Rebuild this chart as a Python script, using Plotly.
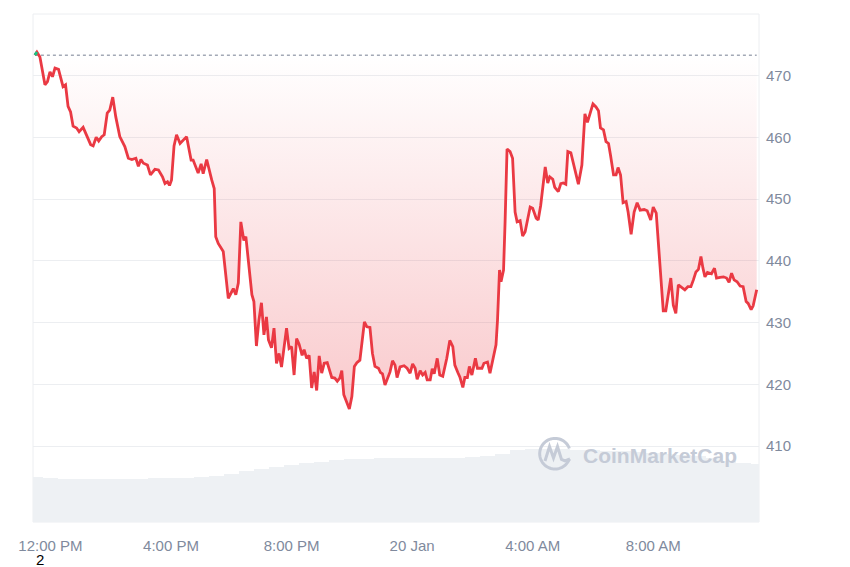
import math
import pandas as pd
import plotly.graph_objects as go

BASE = pd.Timestamp("2025-01-19 12:00")
OPEN_PRICE = 473.3

# minutes relative to 12:00 PM, 19 Jan
price_minutes = [
    -31, -27, -21, -11, -6, -1, 4, 9, 16, 25,
    30, 35, 40, 45, 52, 57, 65, 72, 80, 85,
    91, 96, 102, 107, 113, 118, 124, 130, 138, 148,
    155, 162, 170, 175, 180, 185, 193, 199, 208, 215,
    223, 228, 233, 237, 241, 246, 251, 258,
    271, 280, 284, 294, 300, 304, 311, 321, 326, 329,
    334, 344, 354, 359, 364, 369, 374, 379, 385, 389,
    395, 401, 405, 410, 415, 420, 425, 430, 434, 440,
    445, 450, 455, 460, 470, 475, 480, 485, 490, 495,
    501, 505, 510, 515, 520, 525, 530, 535, 540,
    545, 551, 560, 566, 571, 576, 580, 584, 590, 595,
    600, 605, 610, 616, 625, 630, 636, 641, 646, 653,
    657, 661, 666, 673, 676, 681, 686, 690, 696, 704,
    710, 716, 721, 726, 730, 736, 741, 746, 750, 756,
    760, 764, 770, 775, 781, 789, 795, 801, 805, 811,
    815, 821, 825, 830, 834, 839, 846, 850, 859, 863,
    870, 875, 880, 887, 890, 894, 897, 902, 905, 909,
    915, 920, 925, 929, 935, 940, 945, 955, 960, 967,
    971, 976, 985, 990, 994, 1000, 1004, 1011, 1016, 1021,
    1026, 1030, 1036, 1044, 1051, 1058, 1064, 1069, 1080, 1086,
    1091, 1095, 1101, 1106, 1111, 1115, 1121, 1126, 1130, 1135,
    1140, 1146, 1150, 1156, 1162, 1168, 1174, 1182, 1188, 1195,
    1200, 1206, 1212, 1217, 1220, 1225, 1230, 1235, 1240, 1245,
    1250, 1257, 1263, 1269, 1275, 1280, 1285, 1290, 1295, 1299,
    1303, 1308, 1316, 1322, 1326, 1333, 1340, 1346, 1351, 1356,
    1361, 1367, 1373, 1379, 1385, 1389, 1395, 1399, 1406,
]
price_values = [
    473.3, 473.8, 473.0, 468.5, 469.0, 470.6, 469.8, 471.2, 471.0, 468.2,
    468.5, 465.0, 464.1, 461.8, 461.5, 460.9, 461.6, 460.4, 458.8, 458.6,
    460.0, 459.4, 460.1, 460.4, 463.9, 464.4, 466.5, 463.3, 460.1, 458.5,
    456.6, 456.4, 456.6, 455.3, 456.4, 455.8, 455.5, 453.9, 454.8, 454.7,
    453.6, 452.5, 452.8, 452.2, 453.1, 458.6, 460.4, 459.0,
    460.1, 456.3, 456.3, 454.2, 455.7, 454.1, 456.4, 453.1, 451.7, 443.9,
    442.8, 441.5, 433.9, 434.7, 435.5, 434.5, 436.4, 446.3, 443.3, 443.9,
    438.8, 434.5, 433.4, 426.2, 430.4, 433.2, 428.0, 430.9, 427.2, 425.9,
    429.1, 423.4, 425.0, 422.8, 429.1, 425.8, 426.1, 421.5, 427.4, 426.5,
    424.7, 425.6, 424.2, 424.7, 419.4, 422.0, 419.0, 424.6, 421.8,
    423.4, 423.5, 421.1, 421.0, 420.5, 421.0, 422.2, 418.3, 416.9, 416.0,
    418.0, 422.9, 423.5, 423.9, 430.1, 429.3, 429.2, 425.0, 422.9, 422.6,
    421.9, 421.7, 419.9, 421.2, 422.0, 423.8, 423.1, 421.1, 422.8, 423.0,
    422.6, 421.8, 423.3, 422.6, 420.8, 422.2, 421.5, 421.9, 420.7, 420.7,
    422.5, 421.7, 424.2, 421.5, 421.3, 424.2, 427.1, 426.1, 423.1, 421.9,
    421.2, 419.5, 421.1, 421.1, 422.9, 421.5, 424.2, 422.6, 422.6, 423.4,
    423.6, 421.8, 423.9, 426.4, 430.4, 438.5, 436.6, 438.5, 446.1, 458.1,
    457.7, 456.6, 447.9, 446.3, 446.5, 444.0, 444.7, 448.7, 448.5, 446.9,
    446.6, 449.0, 455.2, 452.6, 453.6, 453.2, 451.9, 451.2, 452.5, 452.6,
    452.4, 457.7, 457.5, 455.0, 452.4, 455.5, 463.8, 462.4, 465.4, 464.9,
    464.3, 461.5, 461.2, 459.3, 459.0, 457.1, 453.9, 453.9, 455.1, 453.9,
    449.4, 449.6, 447.9, 444.3, 447.9, 449.4, 448.2, 448.3, 448.1, 446.6,
    448.7, 447.7, 440.9, 436.9, 431.9, 431.9, 435.0, 437.2, 432.8, 431.5,
    436.1, 435.7, 435.3, 435.8, 435.8, 436.9, 438.2, 438.6, 440.7, 438.8,
    437.4, 438.1, 437.9, 438.8, 437.2, 437.3, 437.4, 437.2, 436.5, 438.0,
    436.9, 436.6, 435.9, 435.8, 433.4, 433.1, 432.1, 432.7, 435.3,
]
assert len(price_minutes) == len(price_values), (len(price_minutes), len(price_values))

volume_minutes = list(range(-30, 1411, 30))
volume_values = [
    44.5, 43.0, 42.7, 42.7, 42.7, 42.7, 42.7, 42.8, 43.0, 43.3,
    43.8, 44.3, 45.3, 47.5, 49.8, 52.2, 54.0, 56.0, 57.8, 59.4,
    60.7, 61.8, 62.3, 62.7, 63.0, 63.0, 62.8, 63.0, 63.2, 63.7,
    64.5, 67.0, 70.5, 71.5, 72.0, 71.5, 71.0, 70.5, 70.0, 69.5,
    69.0, 68.0, 67.0, 66.0, 65.0, 63.0, 60.5, 58.5, 57.0,
]
assert len(volume_minutes) == len(volume_values)

tick_times = ["2025-01-19 12:00", "2025-01-19 16:00", "2025-01-19 20:00",
              "2025-01-20 00:00", "2025-01-20 04:00", "2025-01-20 08:00"]
tick_labels = ["12:00 PM", "4:00 PM", "8:00 PM", "20 Jan", "4:00 AM", "8:00 AM"]
price_ticks = [410, 420, 430, 440, 450, 460, 470]

RED = "#ea3943"
GREEN = "#16c784"
GRAY_TXT = "#808a9d"
FONT = "Liberation Sans, Arial, sans-serif"

t_price = [BASE + pd.Timedelta(minutes=m) for m in price_minutes]
t_vol = [BASE + pd.Timedelta(minutes=m) for m in volume_minutes]

fig = go.Figure()

# volume bars (secondary, hidden axis)
fig.add_trace(go.Bar(
    x=t_vol, y=volume_values, yaxis="y2",
    marker=dict(color="#eef1f4", line=dict(width=0)),
    width=30 * 60 * 1000, hoverinfo="skip", showlegend=False,
))

# open-price dotted reference line
fig.add_trace(go.Scatter(
    x=[t_price[0], t_price[-1]], y=[OPEN_PRICE, OPEN_PRICE],
    mode="lines", line=dict(color="#a3a9b6", width=1.5, dash="dot"),
    hoverinfo="skip", showlegend=False,
))

# price line with gradient fill towards the open line
fig.add_trace(go.Scatter(
    x=t_price, y=price_values, mode="lines",
    line=dict(color=RED, width=2.8),
    fill="tonexty",
    fillgradient=dict(
        type="vertical",
        colorscale=[[0, "rgba(234,57,67,0.27)"], [1, "rgba(234,57,67,0.0)"]],
        start=416, stop=OPEN_PRICE,
    ),
    hoverinfo="skip", showlegend=False,
))

# small green segment above the open price
fig.add_trace(go.Scatter(
    x=t_price[:2], y=price_values[:2], mode="lines",
    line=dict(color=GREEN, width=2.8),
    hoverinfo="skip", showlegend=False,
))

# The page body adds an 8px offset; figure is sized to compensate.
OFF = 8
FIG_W, FIG_H = 850 - OFF, 567 - OFF
# plot geometry in figure pixels
L, R, T, B = 33 - OFF, 759 - OFF, 14 - OFF, 522 - OFF


def px(x):
    return (x - OFF - L) / (R - L)


def py(y):
    return (B - (y - OFF)) / (B - T)


# CoinMarketCap watermark logo (page pixel coordinates)
wm = "#c5cbd7"
cx, cy, r = 555, 453.7, 15.3
pts = []
for i in range(0, 61):
    a = math.radians(20 + i * (320 / 60))
    pts.append((cx + r * math.cos(a), cy - r * math.sin(a)))
arc = "M " + " L ".join(f"{px(x):.5f},{py(y):.5f}" for x, y in pts)
m_pts = [(545, 461), (549.5, 446.5), (553.5, 458), (557.5, 446.5), (561.5, 459.5), (565, 461), (570, 459)]
mpath = "M " + " L ".join(f"{px(x):.5f},{py(y):.5f}" for x, y in m_pts)

shapes = [
    dict(type="rect", xref="paper", yref="paper", x0=0, x1=1, y0=0, y1=1,
         line=dict(color="#eceef1", width=1), layer="below"),
    dict(type="path", xref="paper", yref="paper", path=arc,
         line=dict(color=wm, width=3)),
    dict(type="path", xref="paper", yref="paper", path=mpath,
         line=dict(color=wm, width=3)),
]

annotations = [
    dict(text="<b>CoinMarketCap</b>", xref="paper", yref="paper",
         x=px(660), y=py(455), xanchor="center", yanchor="middle",
         showarrow=False, font=dict(family=FONT, size=21, color=wm)),
    dict(text="2", xref="paper", yref="paper", x=px(40), y=py(559),
         xanchor="center", yanchor="middle", showarrow=False,
         font=dict(family=FONT, size=15, color="#000000")),
]

fig.update_layout(
    width=FIG_W, height=FIG_H,
    margin=dict(l=L, r=FIG_W - R, t=T, b=FIG_H - B),
    paper_bgcolor="white", plot_bgcolor="white",
    showlegend=False,
    bargap=0,
    xaxis=dict(
        type="date",
        range=[BASE + pd.Timedelta(minutes=-34.8), BASE + pd.Timedelta(minutes=1410.6)],
        tickvals=tick_times, ticktext=tick_labels,
        showgrid=False, zeroline=False, showline=False,
        ticks="outside", ticklen=10, tickcolor="rgba(0,0,0,0)",
        tickfont=dict(family=FONT, size=15, color=GRAY_TXT),
    ),
    yaxis=dict(
        side="right", range=[397.7, 479.96],
        tickvals=price_ticks,
        showgrid=True, gridcolor="#eceef1", gridwidth=1,
        zeroline=False, showline=False,
        ticks="outside", ticklen=3, tickcolor="rgba(0,0,0,0)",
        tickfont=dict(family=FONT, size=15, color=GRAY_TXT),
    ),
    yaxis2=dict(overlaying="y", range=[0, 500], visible=False),
    shapes=shapes,
    annotations=annotations,
)

fig.write_html("out.html")
